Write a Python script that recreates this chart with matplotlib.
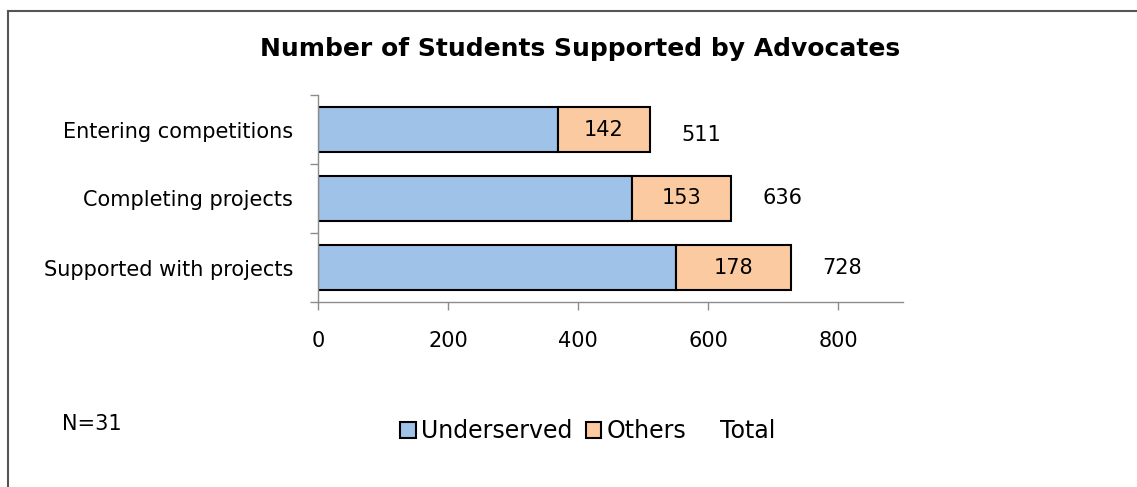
import matplotlib
matplotlib.use("Agg")
import matplotlib.pyplot as plt
from matplotlib.patches import Patch
from matplotlib.lines import Line2D

categories = ["Supported with projects", "Completing projects", "Entering competitions"]
underserved = [550, 483, 369]
others = [178, 153, 142]
totals = [728, 636, 511]
x_ticks = [0, 200, 400, 600, 800]

plt.rcParams["font.family"] = ["DejaVu Sans"]

W, H = 1137, 487
fig = plt.figure(figsize=(W / 100, H / 100), dpi=100)
ax = fig.add_axes([318 / W, 1 - 302 / H, (903 - 318) / W, (302 - 95) / H])

blue = "#9fc2e8"
orange = "#fbcaa0"
ypos = list(range(len(categories)))
bar_h = 0.66
fs = 15

ax.barh(ypos, underserved, height=bar_h, color=blue, edgecolor="black", linewidth=1.5)
ax.barh(ypos, others, left=underserved, height=bar_h, color=orange,
        edgecolor="black", linewidth=1.5)

for y, u, o, t in zip(ypos, underserved, others, totals):
    ax.text(u + o / 2, y, str(o), ha="center", va="center", fontsize=fs)
    ax.text(t + 78, y - 0.08 if t == totals[-1] else y, str(t),
            ha="center", va="center", fontsize=fs)

ax.set_xlim(0, 900)
ax.set_ylim(-0.5, len(categories) - 0.5)
ax.set_xticks(x_ticks)
ax.set_xticklabels([str(v) for v in x_ticks], fontsize=fs)
ax.set_yticks(ypos)
ax.set_yticklabels(categories, fontsize=fs)
ax.tick_params(axis="y", length=0, pad=18)
ax.tick_params(axis="x", length=6, width=1, color="#8c8c8c", pad=15)
# category boundary ticks on the y axis
ax.set_yticks([-0.5, 0.5, 1.5, 2.5], minor=True)
ax.tick_params(axis="y", which="minor", length=6, width=1, color="#8c8c8c")

for s in ["top", "right"]:
    ax.spines[s].set_visible(False)
for s in ["left", "bottom"]:
    ax.spines[s].set_color("#8c8c8c")
    ax.spines[s].set_linewidth(1)

fig.text(580 / W, 1 - 49 / H, "Number of Students Supported by Advocates",
         ha="center", va="center", fontsize=18, fontweight="bold")

fig.text(62 / W, 1 - 424 / H, "N=31", ha="left", va="center", fontsize=fs)

handles = [
    Patch(facecolor=blue, edgecolor="black", linewidth=1.5),
    Patch(facecolor=orange, edgecolor="black", linewidth=1.5),
    Line2D([], [], linestyle="none"),
]
fig.legend(handles, ["Underserved", "Others", "Total"], loc="center",
           bbox_to_anchor=(588 / W, 1 - 431 / H), ncol=3, frameon=False,
           fontsize=17, handlelength=0.65, handleheight=0.65, handletextpad=0.2,
           columnspacing=0.6)

# outer frame (left and top edges)
fig.add_artist(Line2D([7.5 / W, 7.5 / W], [0, 1 - 11 / H], color="#555555",
                      linewidth=1.5, transform=fig.transFigure))
fig.add_artist(Line2D([7.5 / W, 1], [1 - 11 / H, 1 - 11 / H], color="#555555",
                      linewidth=1.5, transform=fig.transFigure))

fig.savefig("out.png", dpi=100)
